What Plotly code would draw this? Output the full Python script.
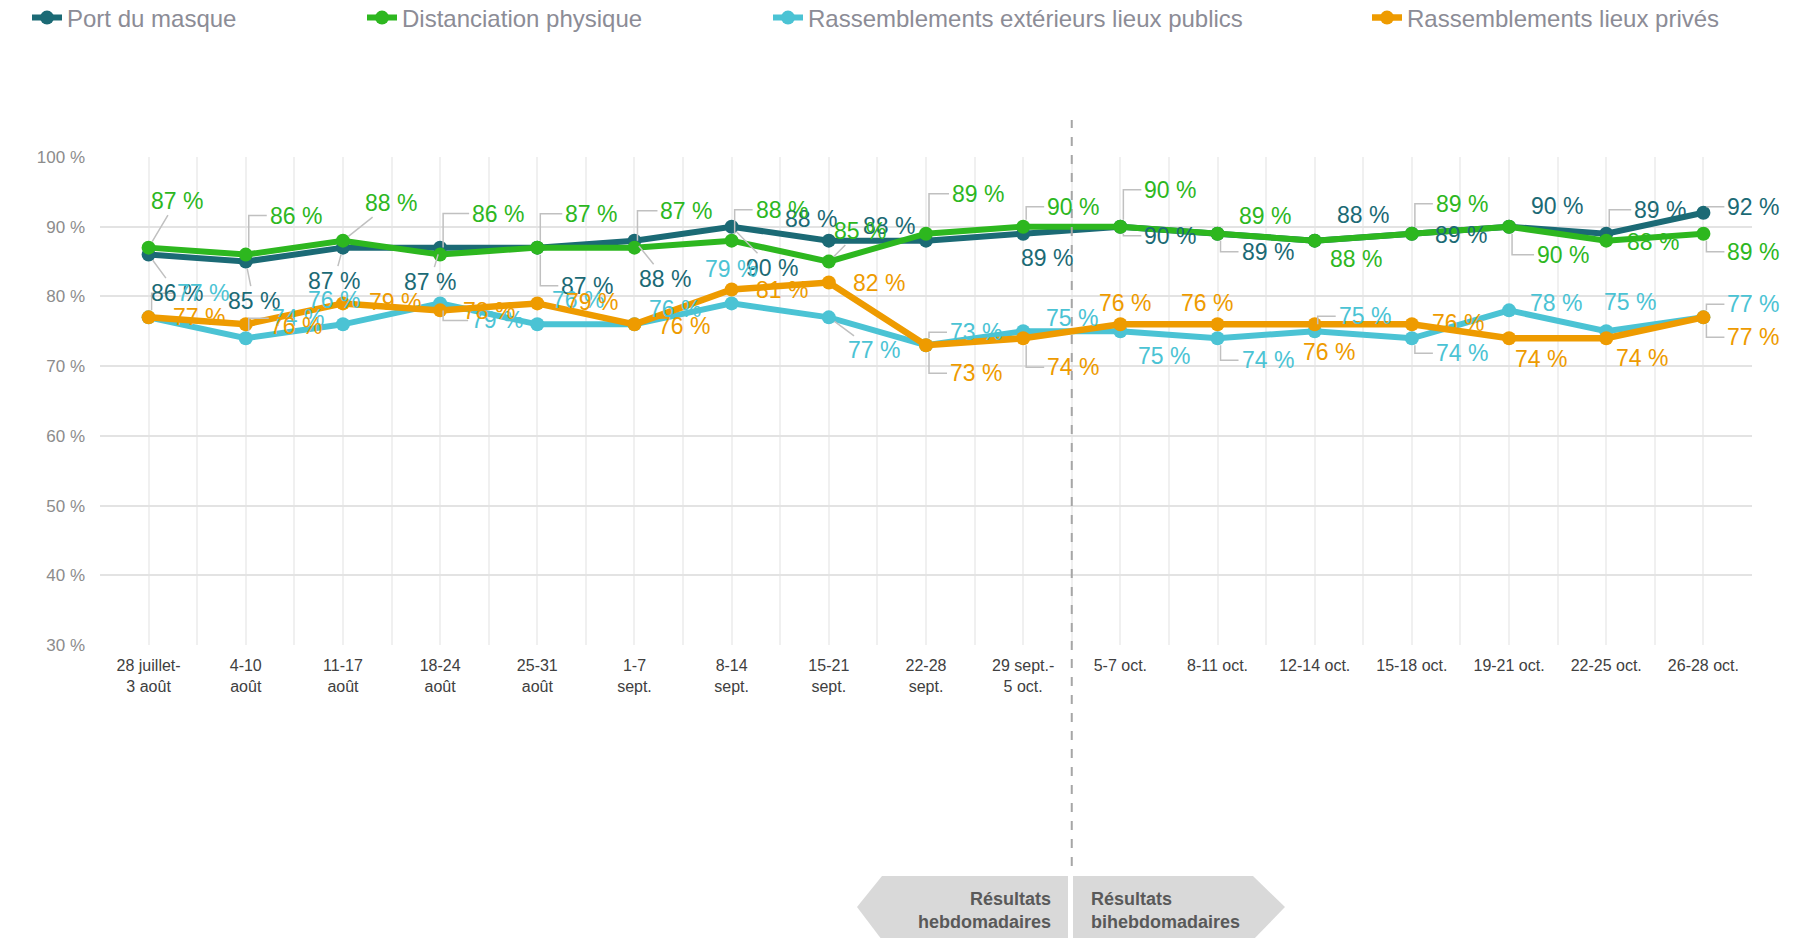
import plotly.graph_objects as go

categories = ["28 juillet-<br>3 août", "4-10<br>août", "11-17<br>août", "18-24<br>août", "25-31<br>août",
              "1-7<br>sept.", "8-14<br>sept.", "15-21<br>sept.", "22-28<br>sept.", "29 sept.-<br>5 oct.",
              "5-7 oct.", "8-11 oct.", "12-14 oct.", "15-18 oct.", "19-21 oct.", "22-25 oct.", "26-28 oct."]

port_masque = [86, 85, 87, 87, 87, 88, 90, 88, 88, 89, 90, 89, 88, 89, 90, 89, 92]
distanciation = [87, 86, 88, 86, 87, 87, 88, 85, 89, 90, 90, 89, 88, 89, 90, 88, 89]
rass_exterieurs = [77, 74, 76, 79, 76, 76, 79, 77, 73, 75, 75, 74, 75, 74, 78, 75, 77]
rass_prives = [77, 76, 79, 78, 79, 76, 81, 82, 73, 74, 76, 76, 76, 76, 74, 74, 77]

series_names = ["Port du masque", "Distanciation physique",
                "Rassemblements extérieurs lieux publics", "Rassemblements lieux privés"]
colors = ["#1b6a75", "#2db71f", "#4bc3d4", "#ee9b00"]

# label offsets in pixels (dx, dy) and leader style (0 none, 1 straight, 2 elbow)
off_port = [(28, 38), (8, 39), (-9, 33), (-10, 34), (50, 38), (31, 38), (40, 41), (-18, -22), (-37, -15),
            (24, 24), (50, 9), (50, 18), (48, -26), (49, 1), (48, -21), (54, -24), (50, -6)]
lead_port = [1, 1, 1, 1, 2, 1, 1, 0, 0, 0, 2, 2, 0, 0, 0, 2, 2]
off_dist = [(28, -47), (50, -39), (48, -38), (58, -41), (54, -34), (52, -37), (50, -31), (31, -31), (52, -40),
            (50, -20), (50, -37), (47, -18), (41, 18), (50, -30), (54, 28), (47, 1), (50, 18)]
lead_dist = [1, 2, 1, 2, 2, 2, 2, 1, 2, 2, 2, 0, 0, 2, 2, 0, 2]
off_ext = [(54, -24), (52, -20), (-9, -24), (57, 17), (41, -24), (41, -15), (-1, -34), (45, 33), (50, -13),
           (49, -13), (44, 25), (50, 22), (50, -15), (50, 15), (47, -7), (24, -29), (50, -13)]
lead_ext = [2, 2, 0, 2, 0, 0, 0, 1, 2, 0, 0, 2, 2, 2, 0, 0, 2]
off_priv = [(50, 0), (50, 2), (52, -1), (49, 1), (55, -1), (50, 2), (50, 1), (50, 1), (50, 28),
            (50, 29), (5, -21), (-11, -21), (14, 28), (46, -1), (32, 21), (36, 20), (50, 20)]
lead_priv = [0, 0, 0, 0, 0, 0, 0, 0, 2, 2, 0, 0, 0, 0, 0, 0, 2]

FONT = "Liberation Sans, Arial, sans-serif"
LEADER = "#c0c0c0"
xs = list(range(len(categories)))
all_values = [port_masque, distanciation, rass_exterieurs, rass_prives]
all_offsets = [off_port, off_dist, off_ext, off_priv]
all_leads = [lead_port, lead_dist, lead_ext, lead_priv]
widths = [6, 6, 6, 6.5]
legend_ids = ["legend", "legend2", "legend3", "legend4"]

fig = go.Figure()
for name, vals, col, w, lg in zip(series_names, all_values, colors, widths, legend_ids):
    fig.add_trace(go.Scatter(x=xs, y=vals, name=name, mode="lines+markers",
                             line=dict(color=col, width=w),
                             marker=dict(color=col, size=14),
                             legend=lg, hoverinfo="skip"))

annotations = []
shapes = []
for vals, col, offs, leads in zip(all_values, colors, all_offsets, all_leads):
    for i, v in enumerate(vals):
        dx, dy = offs[i]
        txt = f"{v} %"
        if leads[i] == 1:
            annotations.append(dict(x=i, y=v, xref="x", yref="y", text=txt, showarrow=True,
                                    ax=dx, ay=dy, arrowhead=0, arrowwidth=1.5, arrowcolor=LEADER,
                                    standoff=7, xanchor="center", yanchor="middle",
                                    font=dict(family=FONT, size=23, color=col)))
        else:
            annotations.append(dict(x=i, y=v, xref="x", yref="y", text=txt, showarrow=False,
                                    xshift=dx, yshift=-dy, xanchor="center", yanchor="middle",
                                    font=dict(family=FONT, size=23, color=col)))
            if leads[i] == 2:
                up = -dy  # pixel offset, positive upward
                s = 1 if up >= 0 else -1
                y_start = s * min(7, abs(up))
                shapes.append(dict(type="path", xref="x", yref="y", xsizemode="pixel", ysizemode="pixel",
                                   xanchor=i, yanchor=v,
                                   path=f"M 3,{y_start} L 3,{up} L {dx - 29},{up}",
                                   line=dict(color=LEADER, width=1.5), layer="above"))

# page body adds an 8px margin; figure coordinates are shifted accordingly
PAGE = 8
FIG_W, FIG_H = 1799 - PAGE, 938 - PAGE
L, R, T, B = 100 - PAGE, 1752 - PAGE, 157 - PAGE, 645 - PAGE
W, H = R - L, B - T


def P(px, py):
    # px, py: screen pixel position in the target picture
    return (px - PAGE - L) / W, (B - (py - PAGE)) / H


def path(points):
    s = ""
    for k, (px, py) in enumerate(points):
        x, y = P(px, py)
        s += ("M" if k == 0 else "L") + f"{x:.5f},{y:.5f} "
    return s + "Z"


shapes += [
    dict(type="line", xref="x", yref="paper", x0=9.5, x1=9.5, y0=P(0, 866)[1], y1=P(0, 120)[1],
         line=dict(color="#a6a6a6", width=2, dash="dash"), layer="above"),
    dict(type="path", xref="paper", yref="paper",
         path=path([(857, 907), (882, 876), (1068, 876), (1068, 940), (882, 940)]),
         fillcolor="#d9d9d9", line=dict(width=0), layer="below"),
    dict(type="path", xref="paper", yref="paper",
         path=path([(1073, 876), (1253, 876), (1285, 907), (1253, 940), (1073, 940)]),
         fillcolor="#d9d9d9", line=dict(width=0), layer="below"),
]

annotations.append(dict(xref="paper", yref="paper", x=P(1053, 0)[0], y=P(0, 910)[1],
                        text="<b>Résultats<br>hebdomadaires</b>", showarrow=False,
                        xanchor="right", yanchor="middle", align="right",
                        font=dict(family=FONT, size=18, color="#595959")))
annotations.append(dict(xref="paper", yref="paper", x=P(1089, 0)[0], y=P(0, 910)[1],
                        text="<b>Résultats<br>bihebdomadaires</b>", showarrow=False,
                        xanchor="left", yanchor="middle", align="left",
                        font=dict(family=FONT, size=18, color="#595959")))

legend_style = dict(orientation="h", yanchor="middle", xanchor="left", bgcolor="rgba(0,0,0,0)",
                    font=dict(family=FONT, size=24, color="#8c8c96"), itemwidth=30)
legend_x_px = [27, 362, 768, 1367]
legends = {}
for lg, lx in zip(legend_ids, legend_x_px):
    legends[lg] = dict(legend_style, x=P(lx, 0)[0], y=P(0, 18)[1])

fig.update_layout(
    width=FIG_W, height=FIG_H,
    margin=dict(l=L, r=FIG_W - R, t=T, b=FIG_H - B, autoexpand=False),
    paper_bgcolor="white", plot_bgcolor="white",
    showlegend=True,
    annotations=annotations, shapes=shapes,
    font=dict(family=FONT),
    **legends,
)
fig.update_xaxes(range=[-0.5, 16.5], tickmode="array", tickvals=xs, ticktext=categories,
                 showgrid=True, gridcolor="#f0f0f0", gridwidth=1.5, zeroline=False,
                 ticks="outside", ticklen=6, tickcolor="rgba(0,0,0,0)",
                 tickfont=dict(family=FONT, size=16, color="#404040"), tickangle=0,
                 minor=dict(tickmode="array", tickvals=[i - 0.5 for i in range(len(categories) + 1)],
                            showgrid=True, gridcolor="#f0f0f0", gridwidth=1.5))
fig.update_yaxes(range=[30, 100], dtick=10, ticksuffix=" %", showgrid=True, gridcolor="#e3e3e3",
                 gridwidth=2, zeroline=False, ticklabelstandoff=14,
                 tickfont=dict(family=FONT, size=17, color="#8c8c8c"))

fig.write_html("out.html")
